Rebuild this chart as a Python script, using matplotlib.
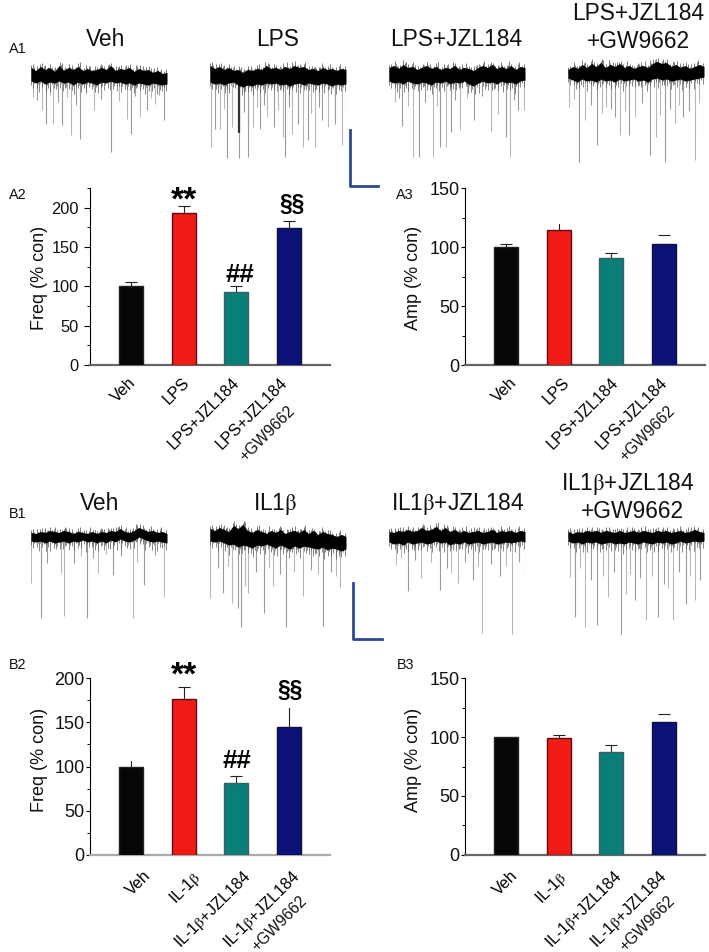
import numpy as np
import matplotlib
matplotlib.use("Agg")
import matplotlib.pyplot as plt
from matplotlib.lines import Line2D
from matplotlib.ticker import MultipleLocator
from matplotlib.transforms import ScaledTranslation

plt.rcParams["font.family"] = ["Liberation Sans", "DejaVu Sans"]
plt.rcParams["mathtext.fontset"] = "stix"
plt.rcParams["mathtext.default"] = "rm"

W, H = 709, 952

# bar data
freq_a = [100, 193, 93, 174]
freq_a_err = [5, 9, 7, 9]
amp_a = [100, 115, 91, 103]
amp_a_err = [3, 5, 4, 7]
freq_b = [100, 177, 81, 145]
freq_b_err = [6, 13, 8, 21]
amp_b = [100, 99, 87, 113]
amp_b_err = [0, 3, 6, 7]

labels_a = ["Veh", "LPS", "LPS+JZL184", "LPS+JZL184"]
labels_b = ["Veh", r"IL-1$\mathrm{\beta}$", r"IL-1$\mathrm{\beta}$+JZL184", r"IL-1$\mathrm{\beta}$+JZL184"]
second_line = "+GW9662"
bar_colors = ["#060606", "#f01a17", "#0a7f7a", "#0b1278"]
bar_edges = ["#222222", "#5a1010", "#3a5f60", "#101040"]

# spikes of the traces: time, tip
veh_a_t = [2, 6, 11, 15, 22, 31, 40, 49, 63, 80, 96, 100, 109, 116, 124, 133, 19, 27, 36, 45, 55, 70, 88, 104, 120, 128]
veh_a_y = [-20, -23, -33, -47, -47, -48, -58, -62, -33, -75, -42, -57, -40, -33, -27, -43, -18, -25, -20, -28, -17, -22, -24, -19, -21, -18]
lps_a_t = [1, 5, 10, 17, 22, 29, 29, 38, 43, 50, 57, 64, 73, 75, 82, 88, 93, 98, 105, 112, 118, 125, 132, 136, 14, 34, 47, 54, 68, 79, 101, 109]
lps_a_y = [-70, -52, -52, -81, -50, -81, -57, -80, -50, -52, -40, -50, -60, -80, -57, -47, -70, -63, -70, -43, -50, -47, -68, -37, -32, -35, -30, -28, -33, -30, -36, -30]
jzl_a_t = [6, 13, 24, 30, 44, 51, 57, 62, 71, 85, 102, 117, 121, 129, 135, 10, 19, 36, 48, 66, 78, 93, 109, 125]
jzl_a_y = [-26, -50, -81, -81, -81, -71, -71, -56, -54, -44, -56, -61, -81, -34, -34, -22, -30, -26, -30, -24, -22, -20, -38, -24]
gw_a_t = [1, 11, 17, 29, 38, 47, 52, 61, 67, 82, 88, 97, 107, 115, 127, 136, 6, 23, 34, 43, 57, 74, 92, 102, 111, 121, 131]
gw_a_y = [-32, -87, -45, -70, -32, -42, -60, -60, -42, -80, -62, -87, -48, -42, -85, -58, -24, -30, -38, -34, -36, -28, -40, -34, -30, -36, -28]
veh_b_t = [0, 10, 33, 56, 67, 82, 102, 113, 133, 16, 30, 43, 50, 62, 75, 90, 106, 124]
veh_b_y = [-45, -80, -78, -80, -35, -37, -80, -47, -59, -25, -35, -25, -18, -20, -16, -18, -24, -17]
il_b_t = [0, 13, 22, 31, 38, 54, 63, 76, 93, 113, 130, 8, 18, 28, 35, 46, 59, 70, 84, 101, 108, 121, 126]
il_b_y = [-60, -55, -65, -89, -55, -75, -48, -89, -58, -88, -50, -30, -28, -70, -48, -34, -30, -36, -34, -32, -36, -34, -38]
jzl_b_t = [7, 19, 32, 51, 69, 84, 93, 111, 123, 136, 12, 26, 42, 58, 62, 76, 89, 102, 117, 130]
jzl_b_y = [-27, -53, -40, -52, -45, -42, -95, -38, -96, -42, -20, -22, -24, -30, -35, -24, -28, -26, -28, -24]
gw_b_t = [2, 7, 17, 29, 40, 53, 58, 67, 78, 90, 105, 118, 127, 132, 12, 23, 35, 46, 62, 72, 84, 96, 100, 111, 122]
gw_b_y = [-39, -79, -89, -87, -59, -96, -56, -62, -82, -79, -82, -66, -62, -42, -30, -42, -38, -34, -36, -40, -38, -46, -50, -34, -38]

# the one broad deflection in the LPS trace
burst_t = [29]
burst_y = [-56]

# noise band edges, read at even steps along each trace
veh_a_up = [11, 8, 12, 9, 11, 7, 13, 8, 11, 9, 12, 8, 10, 8, 9, 11, 9, 13, 8, 10, 9, 11, 7, 10, 8, 9, 6, 8, 5, 6]
veh_a_lo = [-7, -9, -7, -10, -8, -9, -7, -9, -8, -11, -8, -10, -8, -9, -11, -8, -9, -7, -9, -8, -10, -9, -11, -9, -10, -11, -9, -10, -11, -10]
lps_a_up = [13, 10, 12, 9, 11, 8, 9, 6, 9, 8, 10, 9, 13, 10, 11, 9, 12, 10, 13, 11, 12, 9, 10, 8, 11, 9, 10, 8, 10, 9]
lps_a_lo = [-8, -10, -9, -11, -9, -8, -11, -13, -11, -12, -10, -11, -9, -10, -9, -11, -10, -12, -10, -9, -11, -9, -10, -11, -9, -10, -12, -10, -11, -10]
jzl_a_up = [10, 12, 9, 13, 10, 11, 8, 10, 12, 9, 11, 8, 10, 9, 12, 8, 10, 9, 7, 10, 12, 10, 13, 9, 11, 9, 12, 8, 11, 10]
jzl_a_lo = [-8, -10, -9, -11, -8, -10, -11, -9, -10, -12, -9, -10, -8, -11, -9, -10, -8, -11, -13, -10, -8, -10, -9, -11, -8, -10, -9, -11, -8, -7]
gw_a_up = [7, 10, 8, 12, 9, 13, 10, 14, 9, 12, 10, 13, 9, 11, 8, 10, 11, 9, 13, 15, 13, 14, 10, 12, 9, 11, 8, 10, 12, 10]
gw_a_lo = [-6, -8, -10, -7, -9, -8, -10, -7, -9, -8, -10, -7, -9, -8, -7, -9, -8, -10, -7, -6, -8, -7, -9, -8, -7, -9, -8, -7, -6, -5]
veh_b_up = [7, 6, 8, 7, 9, 8, 7, 9, 8, 6, 8, 7, 6, 8, 6, 8, 7, 9, 8, 11, 8, 7, 9, 12, 10, 8, 9, 7, 8, 6]
veh_b_lo = [-6, -7, -6, -8, -6, -8, -7, -6, -8, -6, -7, -5, -7, -6, -8, -6, -8, -5, -7, -4, -6, -7, -5, -2, -4, -6, -7, -6, -7, -8]
il_b_up = [11, 9, 12, 10, 8, 14, 11, 15, 9, 7, 10, 8, 6, 9, 7, 10, 6, 8, 9, 7, 10, 6, 9, 5, 8, 6, 5, 3, 5, 3]
il_b_lo = [-6, -7, -6, -8, -10, -9, -12, -10, -11, -13, -10, -11, -9, -11, -13, -10, -12, -14, -11, -13, -11, -12, -13, -14, -12, -15, -13, -14, -16, -14]
jzl_b_up = [8, 7, 9, 8, 10, 8, 9, 12, 9, 10, 13, 9, 12, 8, 10, 7, 9, 7, 8, 9, 7, 8, 10, 7, 9, 8, 9, 7, 9, 8]
jzl_b_lo = [-7, -9, -8, -10, -7, -9, -8, -7, -9, -8, -6, -8, -7, -10, -8, -9, -7, -9, -8, -7, -9, -8, -7, -9, -8, -7, -8, -7, -6, -7]
gw_b_up = [8, 6, 8, 7, 9, 8, 9, 7, 9, 8, 7, 9, 7, 8, 9, 7, 9, 8, 7, 9, 8, 9, 7, 8, 9, 7, 8, 10, 8, 7]
gw_b_lo = [-6, -8, -7, -9, -7, -8, -7, -9, -8, -7, -9, -8, -9, -7, -8, -9, -7, -8, -9, -7, -8, -7, -9, -8, -6, -8, -7, -6, -7, -6]

# fine structure of the noise edge, one stretch of 4 steps per band value
hair_up = [0, -3, 1, -2, -4, 2, -1, -3, 0, -5, 1, -2, 2, -4, -1, 0, -3, 1, -2, -5, 0, 2, -3, -1, -4, 1, -2, 0, -3, -1, 1]
hair_lo = [-1, 3, -4, 1, 4, -2, 2, -6, 1, 3, -3, 0, 4, -5, 2, -1, 3, -7, 1, 4, -2, 2, -3, 0, 5, -4, 1, 3, -5, 2, -2]

traces = [
    (31, 77, veh_a_t, veh_a_y, veh_a_up, veh_a_lo),
    (210, 77, lps_a_t, lps_a_y, lps_a_up, lps_a_lo),
    (389, 76, jzl_a_t, jzl_a_y, jzl_a_up, jzl_a_lo),
    (568, 75, gw_a_t, gw_a_y, gw_a_up, gw_a_lo),
    (31, 538, veh_b_t, veh_b_y, veh_b_up, veh_b_lo),
    (210, 538, il_b_t, il_b_y, il_b_up, il_b_lo),
    (389, 538, jzl_b_t, jzl_b_y, jzl_b_up, jzl_b_lo),
    (568, 538, gw_b_t, gw_b_y, gw_b_up, gw_b_lo),
]


def px_axes(left, top, right, bottom):
    return fig.add_axes([left / W, 1 - bottom / H, (right - left) / W, (bottom - top) / H])


def fig_text(x, y, s, **kw):
    fig.text(x / W, 1 - y / H, s, ha=kw.pop("ha", "center"), va=kw.pop("va", "center"), **kw)


def draw_trace(left, base, t, tip, up, lo):
    ax = px_axes(left, base - 20, left + 136, base + 100)
    ax.set_xlim(0, 136)
    ax.set_ylim(-100, 20)
    ax.axis("off")
    ax.patch.set_alpha(0)
    # far spikes pale, near ones darker
    shades = ["#9a9a9a" if i % 2 else "#b8b8b8" for i in range(len(t))]
    ax.vlines(t, 0, tip, colors=shades, lw=0.8)
    # hairy outer edge of the band
    n = len(up) * 4
    fine = np.linspace(0, 136, n)
    ax.vlines(fine, 0, np.repeat(up, 4) + 1 + np.resize(hair_up, n), color="#444444", lw=0.5)
    ax.vlines(fine, 0, np.repeat(lo, 4) + np.resize(hair_lo, n), color="#555555", lw=0.5)
    steps = np.linspace(0, 136, len(up))
    ax.fill_between(steps, np.array(lo) + 3, np.array(up) - 1.5, color="black", lw=0, zorder=3)
    return ax


def draw_bars(box, vals, errs, labels, top, ylabel, label_x, label_y, pad, axis_color, no_cap, no_stem, tick_size, tick_len, tick_pad, shifts):
    ax = px_axes(*box)
    x = np.arange(4)
    ax.bar(x, vals, width=0.456, color=bar_colors, edgecolor=bar_edges, lw=1.0, zorder=3)
    for i in range(4):
        if errs[i] == 0:
            continue
        if i not in no_stem:
            ax.plot([i, i], [vals[i], vals[i] + errs[i]], color="#222222", lw=0.8, zorder=2)
        if i not in no_cap:
            ax.plot([i], [vals[i] + errs[i]], marker="_", ms=9, mew=0.8, color="#222222", zorder=2)
    ax.set_xlim(-0.78, 3.78)
    ax.set_ylim(0, top)
    ax.spines["top"].set_visible(False)
    ax.spines["right"].set_visible(False)
    ax.spines["left"].set_linewidth(0.8)
    ax.spines["bottom"].set_linewidth(1.6)
    ax.spines["bottom"].set_color(axis_color)
    ax.yaxis.set_major_locator(MultipleLocator(50))
    ax.yaxis.set_minor_locator(MultipleLocator(25))
    ax.tick_params(axis="y", which="major", length=tick_len, width=0.8, labelsize=tick_size, pad=tick_pad, labelcolor="#111111")
    ax.tick_params(axis="y", which="minor", length=2, width=0.7)
    ax.tick_params(axis="x", length=0, pad=pad, labelsize=11.6)
    ax.set_xticks(x)
    ax.set_xticklabels(labels, rotation=45, ha="right", rotation_mode="anchor")
    for lab, dx in zip(ax.get_xticklabels(), shifts):
        lab.set_transform(lab.get_transform() + ScaledTranslation(dx / 100, 0, fig.dpi_scale_trans))
    ax.set_ylabel(ylabel, fontsize=13, color="#111111")
    ax.yaxis.set_label_coords(label_x, label_y)
    return ax


fig = plt.figure(figsize=(W / 100, H / 100), dpi=100)

trace_axes = [draw_trace(*tr) for tr in traces]
trace_axes[1].vlines(burst_t, 0, burst_y, color="#333333", lw=1.6)

# trace headers
for x, y, s in [(106, 39, "Veh"), (278, 39, "LPS"), (456, 40, "LPS+JZL184"), (638, 13, "LPS+JZL184"), (638, 42, "+GW9662"),
                (100, 504, "Veh"), (275, 504, r"IL1$\mathrm{\beta}$"), (458, 504, r"IL1$\mathrm{\beta}$+JZL184"),
                (628, 484, r"IL1$\mathrm{\beta}$+JZL184"), (632, 512, "+GW9662")]:
    fig_text(x, y, s, fontsize=16.4, color="#111111")

# panel letters
for x, y, s in [(9, 49, "A1"), (9, 195, "A2"), (396, 195, "A3"), (9, 514, "B1"), (9, 665, "B2"), (397, 665, "B3")]:
    fig_text(x, y, s, fontsize=10.4, ha="left", color="#111111")

ax_a2 = draw_bars((90, 188, 330, 365), freq_a, freq_a_err, labels_a, 225, "Freq (% con)", -0.175, 0.49, 7, "#666666", [], [], 11.8, 4, 4, [-3, -2, -5, -9])
ax_a3 = draw_bars((465, 188.3, 705, 365), amp_a, amp_a_err, labels_a, 150, "Amp (% con)", -0.178, 0.49, 7, "#666666", [1], [3], 13, 3, 1, [3, 3, -1, -4])
ax_b2 = draw_bars((90, 678.3, 330, 854.7), freq_b, freq_b_err, labels_b, 200, "Freq (% con)", -0.175, 0.54, 9.5, "#aaaaaa", [0, 3], [], 13, 3, 1, [12, 8, 5, 2])
ax_b3 = draw_bars((465, 678.3, 705, 854.7), amp_b, amp_b_err, labels_b, 150, "Amp (% con)", -0.178, 0.54, 9.5, "#666666", [], [3], 13, 3, 1, [4, -1, 1, -6])

# lower line of the last label of each panel
for x, y in [(298, 403), (678, 403), (310, 893), (678, 893)]:
    fig_text(x, y, second_line, fontsize=11.3, rotation=45, ha="right", va="top", color="#111111")

# significance marks
for ax, pos in [(ax_a2, [(1, 208), (2.06, 115), (3.05, 204)]), (ax_b2, [(1, 203), (2.02, 106), (3.03, 186)])]:
    ax.text(pos[0][0], pos[0][1], "**", fontsize=24, fontweight="bold", ha="center", va="center", clip_on=False)
    ax.text(pos[1][0], pos[1][1], "##", fontsize=18.5, fontweight="bold", ha="center", va="center", clip_on=False)
    ax.text(pos[2][0], pos[2][1], "§§", fontsize=16.5, fontweight="bold", ha="center", va="center", clip_on=False)

# scale bars
for x0, y0, y1, x1 in [(350, 130, 186, 378), (353, 583, 639, 382)]:
    fig.add_artist(Line2D([x0 / W, x0 / W, x1 / W], [1 - y0 / H, 1 - y1 / H, 1 - y1 / H], color="#2b4a8f", lw=2))

fig.savefig("out.png", dpi=100)
